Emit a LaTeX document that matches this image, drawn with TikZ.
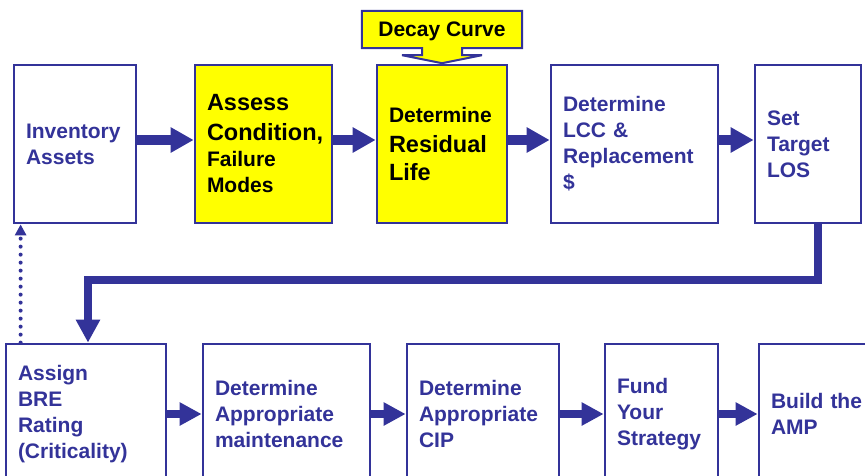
\documentclass[tikz,border=0pt]{standalone}
\usepackage{fontspec}
\setmainfont{Liberation Sans}
\usetikzlibrary{arrows.meta,calc,backgrounds}
\definecolor{ampblue}{RGB}{51,51,153}
\definecolor{ampyellow}{RGB}{255,255,0}
\tikzset{>={Triangle[length=23pt,width=24pt]}}
\newcommand\txtA{\fontsize{21}{26}\selectfont}
\newcommand\txtB{\fontsize{23.5}{26}\selectfont}
\tikzset{
  stepbox/.style={draw=ampblue, line width=2.75pt, fill=white, text=ampblue,
    font=\bfseries\txtA, align=left, inner xsep=12pt, inner ysep=0pt,
    text width=#1, minimum height=158pt},
  hlbox/.style={stepbox=#1, fill=ampyellow, text=black},
  lowbox/.style={stepbox=#1, minimum height=140pt},
  flow/.style={draw=ampblue, line width=10pt, ->},
  lowflow/.style={draw=ampblue, line width=8pt, -{Triangle[length=22pt,width=22pt]}},
  loopback/.style={draw=ampblue, line width=7.5pt, line join=miter,
    -{Triangle[length=23pt,width=23pt]}},
  backlink/.style={draw=ampblue, line width=4pt, line cap=round,
    dash pattern=on 0pt off 8pt, -{Triangle[length=11pt,width=11pt]}}
}

\begin{document}
\begin{tikzpicture}[x=1pt, y=-1pt]
  \useasboundingbox (0,0) rectangle (865,475);

  %% top row
  \node[stepbox=98pt] (inv) at (75,144) {Inventory\\ Assets};
  \node[hlbox=113pt] (cond) at (263.5,144) {\txtB Assess\\[4pt] Condition,\\ \txtA Failure\\ Modes};
  \node[hlbox=106pt] (resid) at (442,144) {Determine\\[4pt] \txtB Residual\\[2pt] Life};
  \node[stepbox=143pt] (lcc) at (634.5,144) {Determine\\ LCC \&\\ Replacement\\ \$};
  \node[stepbox=82pt] (los) at (808,144) {Set\\ Target\\ LOS};

  %% callout
  \node[font=\bfseries\txtA, minimum width=160pt, minimum height=37pt,
    inner sep=0pt, text depth=0pt] (decay) at (442,29.5) {Decay Curve};
  \begin{scope}[on background layer]
    \draw[draw=ampblue, line width=2pt, fill=ampyellow]
      (decay.north west) -- (decay.north east) -- (decay.south east)
      -- ($(decay.south)+(20,0)$) -- ++(0,7) -- ++(20,0)
      -- ($(decay.south)+(0,15)$) -- ($(decay.south)+(-40,7)$) -- ++(20,0)
      -- ($(decay.south)+(-20,0)$) -- (decay.south west) -- cycle;
  \end{scope}

  %% bottom row
  \node[lowbox=136pt] (bre) at (86,414) {Assign\\ BRE\\ Rating\\ (Criticality)};
  \node[lowbox=143pt] (maint) at (286.5,414) {Determine\\ Appropriate\\ maintenance};
  \node[lowbox=128pt] (cip) at (483,414) {Determine\\ Appropriate\\ CIP};
  \node[lowbox=89pt] (fund) at (661.5,414) {Fund\\ Your\\ Strategy};
  \node[lowbox=98pt] (amp) at (820,414) {Build the\\ AMP};

  %% arrows
  \draw[flow] ([yshift=4pt]inv.east) -- ([yshift=4pt]cond.west);
  \draw[flow] ([yshift=4pt]cond.east) -- ([yshift=4pt]resid.west);
  \draw[flow] ([yshift=4pt]resid.east) -- ([yshift=4pt]lcc.west);
  \draw[flow] ([yshift=4pt]lcc.east) -- ([yshift=4pt]los.west);

  \draw[lowflow] (bre.east) -- (maint.west);
  \draw[lowflow] (maint.east) -- (cip.west);
  \draw[lowflow] (cip.east) -- (fund.west);
  \draw[lowflow] (fund.east) -- (amp.west);

  \coordinate (turn) at (88,280);
  \draw[loopback] ([xshift=10pt]los.south) |- (turn) -- (turn |- bre.north);

  \coordinate (dotfoot) at ([xshift=16pt]bre.north west);
  \draw[backlink] (dotfoot) -- (dotfoot |- inv.south);
\end{tikzpicture}
\end{document}
